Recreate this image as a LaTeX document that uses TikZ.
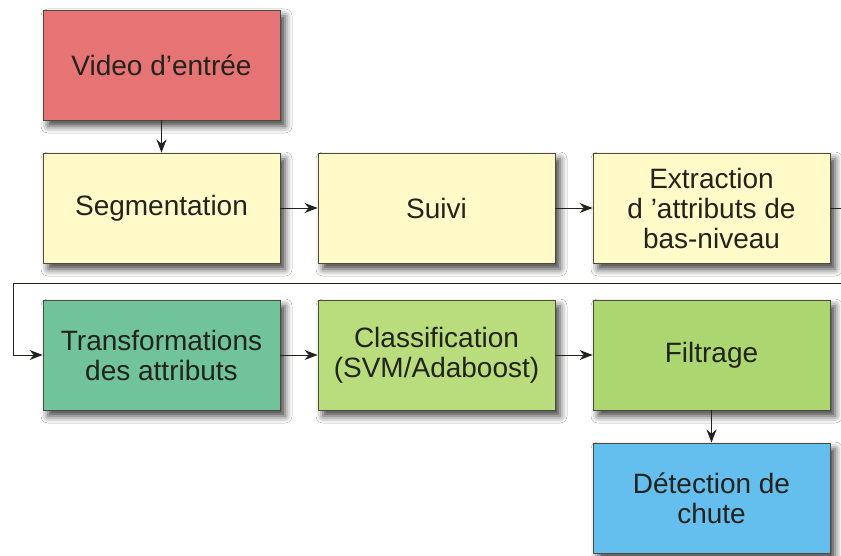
\documentclass[tikz,border=0pt]{standalone}
\usepackage{fontspec}
\setmainfont{Liberation Sans}
\usepackage{tikz}
\usetikzlibrary{arrows.meta}
\usetikzlibrary{shadows,shadows.blur}

\definecolor{boxline}{RGB}{75,75,60}
\definecolor{txt}{RGB}{35,35,30}
\definecolor{vidred}{RGB}{230,116,116}
\definecolor{paleyel}{RGB}{255,250,200}
\definecolor{teal}{RGB}{112,195,155}
\definecolor{lgreen}{RGB}{185,220,125}
\definecolor{mgreen}{RGB}{172,214,112}
\definecolor{skyblue}{RGB}{100,190,238}

\begin{document}
\begin{tikzpicture}[x=1pt, y=-1pt]
            \tikzstyle{block} = [draw=boxline, line width=0.9pt, text=txt, align=center,
                minimum width=237pt, minimum height=110pt, inner sep=0pt,
                font=\fontsize{28}{30}\selectfont,
                blur shadow={shadow xshift=5pt, shadow yshift=-6pt, shadow blur radius=7pt, shadow opacity=75}]
            \tikzstyle{arrow} = [draw=txt, line width=0.9pt, -{Stealth[length=13pt,width=10pt]}]

            \useasboundingbox (0,0) rectangle (841,556);
            \fill[white] (0,0) rectangle (841,556);
            \clip (0,0) rectangle (841,556);

            \node[block, fill=vidred] (vid) at (161.5, 65) {Video d’entrée};

            \node[block, fill=paleyel] (seg) at (161.5, 208) {Segmentation};
            \node[block, fill=paleyel] (sui) at (436.5, 208) {Suivi};
            \node[block, fill=paleyel] (ext) at (711.5, 208) {Extraction\\d ’attributs de\\bas-niveau};

            \node[block, fill=teal] (tra) at (161.5, 355) {Transformations\\des attributs};
            \node[block, fill=lgreen] (cla) at (436.5, 355) {Classification\\(SVM/Adaboost)};
            \node[block, fill=mgreen] (fil) at (711.5, 355) {Filtrage};

            \node[block, fill=skyblue] (det) at (711.5, 498) {Détection de\\chute};

            \coordinate (loopR) at (850, 283);
            \coordinate (loopL) at (13, 283);

            \draw [arrow] (vid) -- (seg);
            \draw [arrow] (seg) -- (sui);
            \draw [arrow] (sui) -- (ext);
            \draw [arrow] (ext.east) -| (loopR) -- (loopL) |- (tra.west);
            \draw [arrow] (tra) -- (cla);
            \draw [arrow] (cla) -- (fil);
            \draw [arrow] (fil) -- (det);
        \end{tikzpicture}
\end{document}
